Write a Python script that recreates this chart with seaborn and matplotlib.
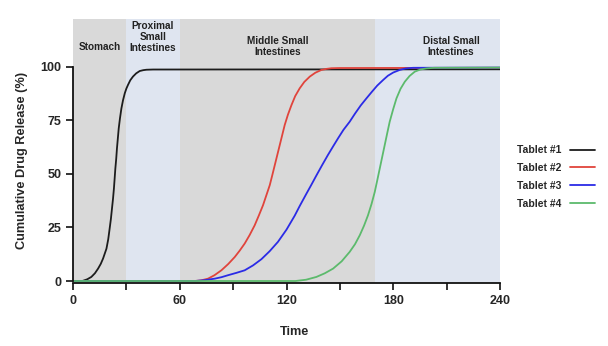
import numpy as np
import pandas as pd
import matplotlib
matplotlib.use("Agg")
import matplotlib.pyplot as plt
import seaborn as sns

# ---- data ----
tablet1_time = [0, 5, 5.6, 8, 10.3, 12.3, 14.1, 15.6, 16.9, 18.8, 19.8, 20.6, 21.3, 21.9, 22.5, 23.0, 23.4,
                23.8, 24.3, 24.7, 25.2, 25.7, 26.4, 27.2, 28.1, 29.1, 30.0, 30.9, 32.2, 33.7, 35.5, 37.5,
                39.5, 41.3, 45, 240]
tablet1_release = [0, 0, 0.1, 0.8, 1.9, 3.6, 5.8, 8.0, 10.5, 15.1, 19.5, 24.5, 29.0, 33.8, 38.5, 43.2, 47.8,
                   52.5, 57.2, 61.9, 66.6, 71.3, 76.0, 80.6, 84.4, 87.7, 89.9, 91.6, 93.8, 95.5, 97.0, 98.1,
                   98.5, 98.7, 98.8, 98.9]

tablet2_time = [0, 68.4, 72, 75.9, 79.5, 83.4, 87.2, 90.9, 93.7, 96.5, 99.3, 102.1, 104.5, 106.8, 108.7, 110.6,
                112.0, 113.4, 114.8, 116.2, 117.6, 119.0, 120.8, 122.8, 124.9, 127.4, 130.0, 133.1, 136.2,
                139.6, 142.5, 145.2, 150, 240]
tablet2_release = [0, 0, 0.3, 1.1, 2.7, 5.0, 7.9, 11.2, 14.2, 17.5, 21.5, 26.0, 30.7, 35.4, 40.1, 44.8,
                   49.4, 54.1, 58.8, 63.5, 68.2, 72.9, 77.7, 82.2, 86.4, 90.0, 93.0, 95.5, 97.3,
                   98.6, 99.1, 99.4, 99.5, 99.6]

tablet3_time = [0, 68.4, 74, 79.7, 83.5, 87.1, 91.8, 96.5, 101.2, 105.9, 110.5, 115.2, 120, 124.6, 127.4,
                131, 134, 136.8, 140, 143.3, 146.2, 149, 152, 155.5, 158.5, 161.7, 164.9, 168,
                171, 174.3, 177, 180, 183.6, 187, 191.1, 240]
tablet3_release = [0, 0, 0.4, 1.1, 1.8, 2.7, 3.8, 5.0, 7.3, 10.2, 13.9, 18.3, 24.0, 30.5, 35.0,
                   40.5, 45.0, 49.3, 54.1, 58.9, 62.9, 66.7, 70.6, 74.4, 78.2, 82.0, 85.3, 88.4,
                   91.3, 93.9, 95.9, 97.4, 98.6, 99.3, 99.6, 99.7]

tablet4_time = [0, 125, 131, 136.8, 141.5, 146.2, 151, 155.5, 158.5, 161.2, 163.6, 165.8, 167.8, 169.6,
                171.0, 172.4, 173.8, 175.2, 176.6, 178.0, 179.9, 181.8, 184.1, 186.5, 189.2, 192.1,
                195.2, 198.6, 203, 240]
tablet4_release = [0, 0, 0.6, 1.9, 3.6, 5.8, 9.2, 13.6, 17.2, 21.4, 25.9, 30.7, 36.0, 41.6,
                   47.0, 52.5, 58.0, 63.5, 69.0, 74.4, 80.1, 85.3, 89.8, 93.1, 95.8, 97.8,
                   98.8, 99.3, 99.6, 99.7]

tablets = ["Tablet #1", "Tablet #2", "Tablet #3", "Tablet #4"]
colors = ["#1c1c1c", "#e0443c", "#2b2be6", "#5cba6c"]

region_starts = [0, 30, 60, 170]
region_ends = [30, 60, 170, 240]
region_names = ["Stomach", "Proximal\nSmall\nIntestines", "Middle Small\nIntestines", "Distal Small\nIntestines"]
region_colors = ["#d9d9d9", "#dfe5f0", "#d9d9d9", "#dfe5f0"]

x_ticks = [0, 60, 120, 180, 240]
x_minor = [30, 90, 150, 210]
y_ticks = [0, 25, 50, 75, 100]

# ---- build table ----
frames = []
for name, t, r in zip(tablets,
                      [tablet1_time, tablet2_time, tablet3_time, tablet4_time],
                      [tablet1_release, tablet2_release, tablet3_release, tablet4_release]):
    frames.append(pd.DataFrame({"Time": t, "Release": r, "Tablet": name}))
df = pd.concat(frames, ignore_index=True)

sns.set_style("ticks")
plt.rcParams["font.family"] = ["Liberation Sans", "DejaVu Sans"]
plt.rcParams["font.weight"] = "bold"
plt.rcParams["lines.solid_joinstyle"] = "round"
plt.rcParams["lines.solid_capstyle"] = "round"

fig = plt.figure(figsize=(6.08, 3.46), dpi=100)
ax = fig.add_axes([73 / 608, 63 / 346, 427 / 608, 264 / 346])

for s, e, c in zip(region_starts, region_ends, region_colors):
    ax.axvspan(s, e, color=c, lw=0, zorder=0)

sns.lineplot(data=df, x="Time", y="Release", hue="Tablet", hue_order=tablets,
             palette=dict(zip(tablets, colors)), linewidth=1.3, ax=ax,
             estimator=None, sort=False)

ax.set_xlim(0, 240)
ax.set_ylim(-0.93, 122.4)
ax.spines["top"].set_visible(False)
ax.spines["right"].set_visible(False)
ax.spines["left"].set_bounds(0, 100)
ax.spines["bottom"].set_bounds(0, 240)
for sp in ("left", "bottom"):
    ax.spines[sp].set_linewidth(1.3)
    ax.spines[sp].set_color("#111111")

ax.set_xticks(x_ticks)
ax.set_xticks(x_minor, minor=True)
ax.set_yticks(y_ticks)
ax.tick_params(axis="both", which="major", length=5, width=1.2, labelsize=9, color="#111111")
ax.tick_params(axis="x", which="minor", length=5, width=1.2, color="#111111")
for lab in ax.get_xticklabels() + ax.get_yticklabels():
    lab.set_fontweight("bold")

ax.set_xlabel("Time", fontsize=9.2, fontweight="bold")
ax.set_ylabel("Cumulative Drug Release (%)", fontsize=9.2, fontweight="bold")
ax.xaxis.set_label_coords(0.518, -0.163)
ax.yaxis.set_label_coords(-0.105, 0.466)

label_pos = [(15, 109.5), (45, 114), (115, 109.5), (212.5, 109.5)]
for (x, y), name in zip(label_pos, region_names):
    ax.text(x, y, name, ha="center", va="center", fontsize=7.2, fontweight="bold",
            color="#222222", linespacing=1.15)

handles, labels = ax.get_legend_handles_labels()
if ax.legend_:
    ax.legend_.remove()
fig.legend(handles, labels, loc="upper left", bbox_to_anchor=(512 / 608, 1 - 140 / 346),
           frameon=False, markerfirst=False, handlelength=2.4,
           handletextpad=0.8, labelspacing=0.75, borderpad=0,
           prop={"weight": "bold", "size": 7.5})

fig.savefig("out.png", dpi=100)
